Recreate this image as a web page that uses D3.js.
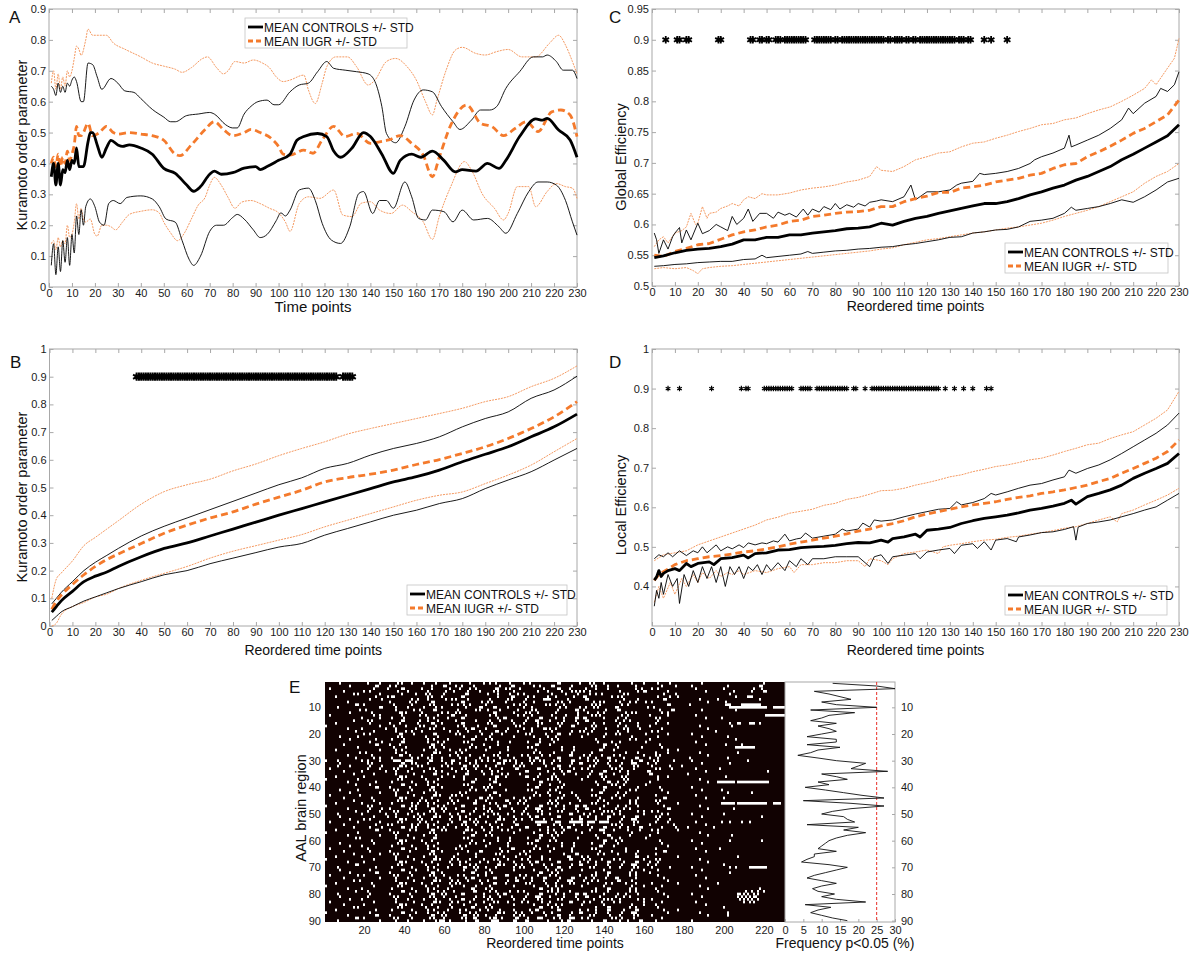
<!DOCTYPE html>
<html>
<head>
<meta charset="utf-8">
<script src="https://cdn.jsdelivr.net/npm/d3@7"></script>
<style>
  body { margin: 0; background: #fff; }
</style>
</head>
<body>
<svg id="chart" width="1198" height="958"></svg>
<script>
// ---------- panel A: Kuramoto order parameter over time ----------
const aCtrlMean = [[1,.357],[2,.40],[3,.33],[4,.40],[5,.33],[6,.38],[7,.37],[8,.41],[9,.38],[10,.41],[11,.40],[12,.45],[13,.39],[15,.39],[17,.47],[18,.50],[19,.50],[21,.46],[23,.42],[25,.45],[27,.475],[30,.46],[32,.455],[35,.46],[40,.45],[45,.43],[50,.384],[55,.368],[60,.33],[63,.31],[66,.325],[70,.365],[72,.375],[75,.365],[80,.37],[85,.385],[90,.39],[92,.38],[95,.39],[100,.41],[105,.43],[108,.475],[111,.487],[117,.497],[121,.487],[124,.44],[127,.42],[132,.45],[137,.50],[140,.487],[145,.43],[150,.368],[153,.41],[158,.43],[162,.42],[167,.44],[172,.41],[177,.373],[180,.38],[186,.375],[191,.40],[196,.384],[199,.41],[205,.487],[212,.544],[215,.54],[217,.546],[222,.508],[227,.476],[230,.42]];
const aIugrMean = [[1,.40],[2,.42],[3,.39],[4,.43],[5,.39],[6,.42],[7,.40],[8,.44],[9,.41],[10,.43],[11,.46],[12,.52],[13,.49],[14,.49],[15,.50],[17,.53],[19,.49],[22,.50],[25,.52],[28,.50],[30,.495],[35,.50],[40,.495],[45,.49],[50,.475],[55,.43],[57,.425],[62,.46],[68,.51],[72,.535],[76,.51],[80,.49],[85,.50],[88,.51],[92,.50],[97,.48],[100,.455],[102,.43],[105,.427],[111,.443],[115,.433],[119,.476],[124,.52],[129,.487],[134,.497],[140,.465],[144,.47],[148,.476],[153,.49],[158,.465],[163,.427],[167,.357],[170,.42],[175,.524],[182,.589],[188,.53],[193,.519],[198,.49],[203,.513],[208,.535],[213,.503],[219,.567],[223,.573],[227,.557],[230,.487]];
const aCtrlUp = [[1,.65],[2,.64],[3,.62],[4,.66],[5,.63],[6,.65],[7,.63],[8,.66],[9,.65],[10,.67],[11,.68],[12,.665],[14,.60],[15,.60],[17,.725],[19,.72],[21,.68],[23,.64],[27,.675],[30,.66],[33,.635],[37,.63],[40,.61],[45,.575],[50,.55],[53,.535],[55,.535],[60,.555],[65,.56],[70,.565],[72,.56],[77,.525],[80,.515],[82,.515],[85,.56],[88,.585],[91,.60],[95,.605],[98,.59],[100,.59],[105,.632],[109,.654],[113,.66],[117,.697],[121,.73],[124,.708],[129,.702],[134,.697],[139,.69],[142,.665],[145,.584],[147,.497],[151,.467],[155,.519],[159,.605],[163,.638],[167,.632],[171,.584],[176,.535],[179,.51],[184,.54],[188,.573],[192,.573],[195,.584],[199,.643],[205,.697],[211,.745],[215,.745],[217,.751],[221,.73],[224,.702],[228,.702],[230,.675]];
const aIugrUp = [[1,.66],[2,.70],[3,.64],[4,.69],[5,.64],[6,.68],[7,.65],[8,.70],[9,.68],[10,.70],[11,.74],[12,.78],[13,.77],[14,.75],[16,.80],[17,.835],[19,.815],[22,.815],[25,.815],[28,.79],[33,.77],[40,.745],[45,.725],[50,.715],[55,.705],[58,.695],[62,.71],[67,.74],[69,.745],[73,.71],[76,.69],[78,.70],[81,.73],[85,.725],[89,.735],[93,.725],[96,.71],[99,.68],[102,.665],[105,.67],[111,.686],[113,.638],[116,.594],[119,.66],[121,.713],[125,.745],[130,.745],[134,.713],[139,.654],[142,.67],[147,.73],[151,.74],[156,.713],[160,.67],[164,.60],[167,.557],[169,.605],[173,.702],[177,.767],[180,.776],[186,.756],[190,.751],[195,.762],[200,.769],[206,.745],[212,.745],[218,.789],[222,.815],[225,.783],[228,.73],[230,.69]];
const aCtrlLo = [[1,.07],[2,.14],[3,.04],[4,.13],[5,.05],[6,.15],[7,.08],[8,.16],[9,.07],[10,.17],[11,.11],[12,.23],[13,.17],[14,.25],[15,.20],[16,.26],[18,.285],[20,.26],[22,.21],[24,.20],[26,.27],[28,.28],[31,.27],[34,.29],[40,.295],[45,.285],[48,.26],[51,.22],[55,.21],[58,.15],[61,.09],[63,.07],[66,.10],[70,.18],[73,.20],[76,.20],[80,.225],[82,.235],[85,.22],[89,.185],[92,.16],[95,.17],[99,.215],[101,.24],[103,.23],[105,.249],[109,.314],[113,.32],[116,.28],[119,.206],[123,.152],[127,.141],[131,.195],[135,.303],[137,.309],[141,.238],[144,.28],[147,.28],[150,.255],[155,.34],[158,.292],[161,.222],[164,.217],[167,.249],[172,.244],[176,.211],[180,.249],[185,.217],[191,.222],[196,.195],[199,.174],[204,.238],[209,.309],[213,.34],[217,.34],[221,.33],[225,.28],[228,.211],[230,.168]];
const aIugrLo = [[1,.14],[2,.15],[3,.12],[4,.16],[5,.13],[6,.15],[7,.14],[8,.20],[9,.16],[10,.17],[11,.21],[12,.27],[13,.22],[14,.255],[15,.22],[16,.21],[18,.22],[20,.17],[21,.165],[23,.20],[25,.20],[27,.195],[29,.185],[32,.21],[35,.235],[40,.245],[45,.25],[48,.24],[50,.21],[53,.175],[56,.15],[59,.175],[62,.22],[65,.265],[68,.29],[70,.33],[72,.355],[75,.33],[78,.29],[81,.255],[84,.275],[88,.28],[92,.27],[96,.255],[100,.24],[103,.21],[105,.18],[109,.27],[113,.292],[118,.287],[124,.314],[128,.233],[132,.228],[136,.271],[140,.276],[144,.249],[149,.238],[154,.265],[158,.244],[163,.211],[167,.154],[170,.228],[175,.325],[181,.406],[184,.379],[189,.298],[194,.255],[198,.217],[200,.238],[204,.325],[209,.325],[212,.26],[217,.309],[221,.335],[225,.325],[228,.32],[230,.287]];

// ---------- panel B: Kuramoto, reordered ----------
const bTime     = [1, 3, 5, 10, 15, 20, 25, 30, 40, 50, 60, 70, 80, 90, 100, 110, 120, 130, 140, 150, 160, 170, 180, 190, 200, 210, 220, 230];
const bCtrlMean = [.05,.07,.09,.125,.16,.18,.195,.215,.25,.28,.30,.325,.35,.375,.40,.424,.448,.472,.496,.52,.539,.563,.593,.62,.647,.683,.719,.765];
const bIugrMean = [.06,.09,.11,.15,.185,.215,.24,.26,.298,.335,.364,.39,.412,.44,.465,.49,.52,.536,.548,.563,.583,.601,.623,.647,.677,.713,.755,.81];
const bCtrlUp   = [.08,.10,.12,.16,.20,.23,.255,.28,.325,.36,.39,.42,.45,.48,.51,.535,.569,.587,.617,.641,.659,.683,.719,.749,.773,.822,.852,.902];
const bIugrUp   = [.10,.17,.19,.235,.29,.32,.35,.38,.44,.485,.51,.53,.56,.585,.615,.641,.665,.693,.713,.731,.749,.767,.786,.81,.828,.864,.894,.939];
const bCtrlLo   = [.02,.035,.05,.07,.09,.105,.12,.135,.16,.185,.20,.225,.245,.265,.285,.298,.328,.352,.376,.40,.418,.442,.46,.496,.527,.557,.599,.641];
const bIugrLo   = [0,.01,.04,.07,.085,.105,.115,.135,.165,.19,.215,.245,.27,.29,.31,.33,.358,.382,.406,.43,.454,.472,.484,.514,.545,.581,.629,.677];
const bStars = d3.range(38, 126).concat(d3.range(128, 133));

// ---------- panel C: global efficiency ----------
const cCtrlMean = [[1,.546],[5,.549],[10,.554],[15,.558],[20,.56],[25,.561],[30,.564],[35,.568],[40,.575],[45,.575],[50,.579],[55,.579],[60,.583],[65,.583],[70,.586],[75,.588],[80,.59],[85,.593],[90,.594],[95,.596],[100,.602],[105,.599],[110,.605],[115,.61],[120,.613],[125,.618],[130,.622],[135,.626],[140,.63],[145,.634],[150,.634],[155,.637],[160,.642],[165,.648],[170,.653],[175,.659],[180,.664],[185,.672],[190,.678],[195,.686],[200,.694],[205,.705],[210,.714],[215,.724],[220,.734],[225,.744],[230,.762]];
const cIugrMean = [[1,.55],[5,.548],[10,.556],[15,.561],[20,.567],[25,.569],[30,.576],[35,.583],[40,.588],[45,.591],[50,.596],[55,.599],[60,.605],[65,.607],[70,.613],[75,.615],[80,.618],[85,.62],[90,.621],[95,.623],[100,.629],[105,.629],[110,.637],[115,.642],[120,.646],[125,.652],[130,.652],[135,.659],[140,.661],[145,.664],[150,.669],[155,.672],[160,.675],[165,.68],[170,.683],[175,.691],[180,.697],[185,.699],[190,.71],[195,.718],[200,.727],[205,.737],[210,.748],[215,.756],[220,.767],[225,.778],[230,.802]];
const cCtrlUp = [[1,.586],[2,.575],[3,.553],[5,.575],[7,.56],[9,.58],[10,.586],[12,.595],[13,.57],[15,.591],[17,.575],[20,.602],[22,.585],[25,.59],[28,.60],[30,.596],[33,.59],[35,.613],[37,.60],[40,.61],[42,.625],[44,.605],[47,.618],[50,.618],[53,.61],[55,.62],[58,.615],[60,.618],[63,.612],[66,.625],[68,.615],[70,.625],[73,.62],[75,.629],[78,.624],[80,.634],[82,.625],[85,.632],[88,.628],[90,.634],[93,.63],[95,.636],[98,.638],[100,.64],[105,.637],[110,.645],[113,.664],[115,.64],[120,.653],[125,.653],[130,.656],[133,.664],[135,.667],[140,.67],[143,.683],[145,.681],[150,.683],[155,.686],[160,.691],[165,.699],[167,.705],[170,.71],[175,.716],[180,.724],[182,.745],[183,.726],[185,.729],[190,.737],[195,.745],[200,.756],[205,.77],[208,.789],[210,.78],[215,.797],[220,.808],[222,.821],[225,.816],[228,.827],[230,.848]];
const cIugrUp = [[1,.564],[3,.575],[5,.58],[7,.57],[10,.586],[13,.59],[15,.596],[17,.618],[19,.60],[20,.602],[22,.629],[24,.61],[25,.618],[28,.62],[30,.626],[33,.63],[35,.634],[38,.63],[40,.64],[42,.645],[45,.642],[48,.65],[50,.648],[55,.648],[60,.651],[65,.656],[70,.659],[75,.661],[80,.664],[85,.669],[90,.672],[95,.678],[98,.694],[100,.688],[105,.686],[110,.694],[115,.705],[120,.71],[125,.716],[130,.718],[135,.726],[140,.732],[145,.734],[150,.74],[155,.745],[160,.751],[165,.756],[170,.762],[175,.764],[180,.77],[185,.773],[190,.78],[195,.786],[200,.791],[205,.80],[210,.81],[215,.821],[218,.835],[220,.827],[225,.854],[228,.87],[230,.902]];
const cCtrlLo = [[1,.532],[5,.533],[10,.535],[15,.536],[20,.538],[25,.539],[30,.54],[35,.54],[40,.543],[45,.544],[48,.55],[50,.546],[55,.548],[60,.55],[65,.552],[68,.556],[70,.553],[75,.555],[80,.557],[85,.558],[90,.56],[95,.561],[100,.563],[105,.564],[110,.567],[115,.569],[120,.572],[125,.575],[130,.579],[135,.58],[140,.586],[145,.588],[150,.591],[155,.592],[160,.596],[165,.605],[170,.607],[175,.61],[180,.618],[183,.628],[185,.623],[190,.626],[195,.629],[200,.634],[205,.64],[210,.636],[215,.645],[220,.656],[225,.669],[230,.675]];
const cIugrLo = [[1,.528],[5,.53],[10,.528],[15,.53],[18,.525],[20,.52],[22,.528],[25,.53],[30,.532],[35,.533],[40,.535],[45,.537],[50,.539],[55,.541],[60,.543],[65,.545],[70,.547],[75,.549],[80,.551],[85,.553],[90,.555],[95,.557],[100,.56],[105,.562],[110,.567],[115,.571],[120,.575],[125,.577],[130,.58],[135,.583],[140,.586],[145,.588],[150,.591],[155,.594],[160,.596],[165,.599],[170,.602],[175,.607],[180,.613],[185,.618],[190,.623],[195,.629],[200,.637],[205,.645],[210,.653],[215,.667],[220,.678],[225,.686],[230,.699]];
const cStars = [6,11,12,15,16,29,30,43,44,47,48,50,51,54,55,56,58,59,60,61,62,63,64,65,66,67,71,72,73,74,75,76,77,78,80,81,83,84,85,86,87,88,89,90,91,92,93,94,95,96,97,98,99,100,101,103,104,106,107,108,109,111,112,114,115,117,118,119,120,121,122,123,124,125,126,127,128,129,130,131,132,134,135,136,138,139,145,148,155];

// ---------- panel D: local efficiency ----------
const dCtrlMean = [[1,.416],[2,.424],[3,.44],[4,.425],[5,.433],[7,.44],[10,.445],[12,.44],[15,.458],[17,.45],[20,.458],[25,.462],[27,.455],[30,.47],[35,.473],[40,.479],[42,.472],[45,.483],[50,.485],[55,.492],[60,.493],[65,.498],[70,.50],[75,.501],[80,.504],[85,.508],[90,.511],[95,.51],[100,.517],[103,.512],[105,.521],[110,.525],[115,.532],[117,.525],[120,.542],[125,.545],[130,.549],[135,.559],[140,.566],[145,.572],[150,.576],[155,.58],[160,.586],[165,.593],[170,.597],[175,.603],[180,.61],[183,.618],[185,.608],[190,.627],[195,.635],[200,.644],[205,.656],[210,.673],[215,.686],[220,.698],[225,.711],[230,.736]];
const dIugrMean = [[1,.415],[3,.43],[5,.437],[10,.455],[15,.465],[20,.47],[25,.475],[30,.478],[35,.482],[40,.487],[45,.49],[50,.495],[55,.50],[60,.507],[65,.512],[70,.517],[75,.522],[80,.527],[85,.533],[90,.54],[95,.545],[100,.553],[105,.559],[110,.566],[115,.576],[120,.583],[125,.589],[130,.595],[135,.601],[140,.606],[145,.61],[150,.614],[155,.62],[160,.625],[165,.629],[170,.635],[175,.639],[180,.644],[185,.65],[190,.656],[195,.665],[200,.673],[205,.686],[210,.698],[215,.711],[220,.724],[225,.741],[230,.77]];
const dCtrlUp = [[1,.47],[3,.48],[5,.475],[7,.485],[9,.475],[12,.49],[15,.478],[18,.49],[20,.485],[22,.50],[24,.485],[26,.495],[28,.505],[30,.49],[33,.50],[35,.495],[38,.505],[40,.498],[42,.51],[45,.505],[48,.51],[50,.508],[53,.515],[55,.512],[58,.532],[60,.515],[63,.52],[65,.522],[67,.535],[70,.522],[75,.527],[80,.532],[83,.545],[85,.54],[90,.545],[92,.56],[95,.55],[97,.568],[100,.565],[105,.568],[110,.576],[115,.583],[120,.589],[125,.595],[130,.597],[133,.614],[135,.606],[140,.612],[145,.622],[148,.635],[150,.631],[155,.639],[160,.648],[165,.656],[170,.66],[175,.669],[180,.677],[182,.694],[185,.686],[190,.698],[195,.707],[200,.72],[205,.736],[210,.753],[215,.77],[220,.787],[225,.808],[230,.838]];
const dIugrUp = [[1,.465],[5,.48],[10,.485],[15,.49],[20,.505],[25,.515],[30,.525],[35,.535],[40,.545],[45,.555],[50,.568],[55,.575],[60,.585],[65,.59],[70,.595],[75,.605],[80,.61],[85,.62],[90,.625],[95,.633],[100,.642],[105,.643],[110,.648],[115,.656],[120,.662],[125,.669],[130,.677],[135,.682],[140,.69],[145,.696],[150,.703],[155,.707],[160,.713],[165,.72],[170,.724],[175,.732],[180,.741],[185,.749],[190,.758],[195,.762],[200,.774],[205,.783],[210,.791],[215,.808],[220,.825],[225,.846],[230,.893]];
const dCtrlLo = [[1,.35],[2,.39],[3,.37],[4,.41],[5,.38],[7,.43],[9,.40],[11,.42],[12,.357],[14,.43],[16,.40],[18,.44],[20,.41],[22,.45],[24,.42],[26,.45],[28,.41],[30,.45],[32,.40],[34,.45],[36,.43],[38,.45],[40,.42],[42,.45],[44,.44],[46,.455],[48,.43],[50,.455],[52,.44],[55,.46],[58,.44],[60,.465],[63,.45],[65,.47],[68,.455],[70,.47],[75,.47],[80,.475],[85,.475],[90,.475],[95,.45],[97,.475],[100,.48],[103,.458],[105,.475],[110,.479],[115,.483],[117,.47],[120,.487],[125,.492],[130,.496],[132,.483],[135,.504],[140,.508],[142,.496],[145,.513],[148,.492],[150,.517],[155,.521],[159,.513],[160,.525],[165,.53],[170,.536],[175,.538],[180,.544],[184,.551],[185,.517],[186,.55],[190,.559],[195,.563],[200,.568],[205,.576],[210,.584],[215,.593],[220,.601],[225,.618],[230,.635]];
const dIugrLo = [[1,.36],[3,.40],[5,.37],[8,.41],[10,.38],[13,.42],[15,.40],[18,.43],[20,.41],[22,.435],[25,.42],[28,.44],[30,.425],[33,.435],[35,.43],[38,.44],[40,.43],[45,.44],[50,.435],[55,.445],[60,.45],[62,.435],[65,.455],[70,.455],[75,.46],[80,.46],[85,.465],[90,.465],[93,.45],[95,.47],[100,.465],[103,.455],[105,.47],[110,.483],[115,.487],[120,.492],[125,.483],[127,.50],[130,.504],[135,.508],[140,.513],[145,.517],[150,.519],[155,.524],[160,.527],[165,.532],[170,.536],[175,.541],[180,.547],[185,.551],[190,.559],[195,.568],[200,.576],[203,.563],[205,.584],[210,.593],[215,.606],[220,.618],[225,.631],[230,.648]];
const dStars = [7,12,26,39,41,42,49,50,51,52,53,54,55,56,57,58,59,60,61,65,66,67,68,69,72,73,74,75,76,77,78,79,80,81,82,83,84,85,88,89,93,96,97,98,99,100,101,102,103,104,105,106,107,108,109,110,111,112,113,114,115,116,117,118,119,120,121,122,123,124,125,128,132,136,140,146,148];

// ---------- panel E: significant regions (hex rows, 4 time points per digit) ----------
const heatRows = [
  "0100 0410 0A10 4102 0081 2408 1200 0C01 0A10 0041 0208 0008 0000 0010 00",
  "0008 0060 9000 0418 4820 0106 0090 6010 0504 2010 0081 0100 0040 0060 00",
  "2000 0081 0300 8402 1090 0628 4004 0C20 2104 0012 1200 0040 0100 0220 00",
  "0040 1200 0840 1008 8104 0A02 0021 0215 4800 1009 8010 0002 0008 0418 00",
  "0002 8010 0204 2810 0300 4208 9000 4082 0920 0500 0041 0000 0020 0000 00",
  "0400 0041 6000 1420 0C00 0206 0481 1008 6001 2800 0208 8000 0004 1C00 00",
  "0000 0208 0012 1009 4100 2014 0807 8040 3000 0408 0060 0010 0800 0040 00",
  "0010 0000 8024 0600 0C02 5020 1080 0A20 0250 1090 9000 0001 0080 0000 00",
  "0001 9000 2010 0A01 2480 8002 4802 9100 0540 0900 0018 0200 00E0 FFC0 00",
  "0200 0018 1040 4120 0206 0C10 1100 0481 2280 6000 4800 0000 003F FFF8 FC",
  "0000 4800 1009 0300 2014 4100 8140 0806 4008 3000 0106 0008 0004 0000 00",
  "0008 0100 0680 8024 5000 0C02 0A20 1002 1090 0250 0090 0000 0000 0000 00",
  "2000 0090 0201 2081 8200 2400 9100 4082 0540 0900 2010 0040 0000 000F FC",
  "0000 2010 4100 1204 0C00 0260 0418 1106 6010 2200 0500 0002 0200 0000 00",
  "0002 0500 0301 1080 4010 2104 0860 8104 3000 4480 0200 0000 0000 0000 00",
  "0400 0200 8402 0620 0C00 5002 1028 0A02 0210 1008 0410 0000 0023 0E40 00",
  "8000 0010 2081 4100 2408 0C01 4020 0418 0500 2208 2000 0010 0010 0000 00",
  "0010 2002 1004 0A10 0260 8010 1106 9000 2208 0504 0080 0001 0000 0000 00",
  "0001 0080 1090 8002 2104 0620 8100 4011 4400 2100 1200 0000 1000 0000 00",
  "0000 1200 0608 0300 5002 1080 0A02 0C20 1008 5000 8010 0100 0000 0000 00",
  "0100 8000 0A00 2080 0410 2002 0081 1000 8010 0040 0200 0008 0040 0000 00",
  "0008 0040 4100 1204 0060 9000 0010 4800 0100 0090 2000 0000 0004 0000 00",
  "0000 0208 0300 1090 0500 0208 0410 2000 0081 1000 8000 0040 0000 0000 00",
  "0040 0060 8400 0620 0041 0200 0060 8000 0018 4000 0100 0002 0080 8000 00",
  "0000 8000 2080 0A10 0090 2010 0500 0208 0010 2002 0080 0000 0007 FE00 00",
  "0400 0010 1200 4102 1200 8010 0040 0208 0060 8000 0010 8000 0000 0000 00",
  "0000 4800 1080 0340 4800 0100 0090 2010 0400 0208 0410 0010 0002 0000 00",
  "0010 0100 0620 8402 2081 0A10 2408 8030 4820 9001 0500 0001 0000 0000 00",
  "0001 0090 4012 1420 1204 4102 0260 0C01 1106 0418 2200 0200 0040 0000 00",
  "8200 2410 3CF0 0C21 8212 4869 0294 2418 1282 4046 0A02 0100 0000 1000 00",
  "0100 0500 0314 1009 1090 0341 2104 4011 8104 0870 4400 0008 0020 0000 00",
  "0208 0208 0682 8024 0628 8402 5002 0C20 0A02 1028 1008 2000 0000 0000 00",
  "2000 0410 2810 0A01 0A10 2081 8030 2408 9001 4820 0504 0040 0400 0000 00",
  "0040 2002 1040 4120 4102 1200 0C01 0260 0418 1100 6000 0002 0000 0004 00",
  "0002 0080 1008 0304 0301 1090 4010 2104 0860 8100 3000 0400 0000 0000 00",
  "0400 1000 0680 8020 8400 0620 0C20 5000 1028 0A00 0210 0000 0080 0000 00",
  "8000 8000 0A00 2080 0410 2400 0081 4800 8010 0500 0200 0010 0000 0000 00",
  "0010 0040 4010 1200 0060 0C00 0018 0400 0106 2200 2000 0001 0FFB FFFC 00",
  "0001 0200 0304 1080 0500 2100 0410 8100 0081 4400 8000 0000 0000 0000 00",
  "0000 0060 8020 0620 0041 5000 0060 0A00 0018 1008 0100 0100 0000 0000 00",
  "0100 8000 2810 0A00 0090 8020 0500 9000 0410 0090 0080 0008 0200 0000 00",
  "0008 0010 1040 4100 1200 0C00 0041 0410 0060 2200 0010 0000 0040 0400 00",
  "2000 4000 1008 0341 4800 2100 0090 8104 0500 4400 0400 0040 0000 0000 00",
  "0040 0100 0680 8402 0106 5002 1200 0A02 0041 1008 0060 0002 0100 0000 00",
  "0002 0080 0A01 2081 2010 8030 4800 9001 0090 0090 0500 0000 0000 0000 00",
  "0400 2010 4012 1204 8030 2408 9001 4820 0504 0090 0200 8000 03FB FFF8 F0",
  "8000 0500 0314 1090 0C01 0260 0418 1106 6010 2208 0040 0010 0000 0000 00",
  "0010 0208 8024 0628 4011 2104 0870 8104 3040 4480 0018 0001 0008 0000 00",
  "0001 0410 2810 0A10 0C20 5002 1028 0A02 0215 1009 1200 0000 0000 0000 00",
  "0200 2002 1042 4102 2081 0A10 2408 8030 4820 9001 0090 0100 0100 0000 00",
  "0100 0081 1009 0341 1204 4102 0260 0C01 1106 0418 0500 0008 0000 0020 00",
  "0008 1200 0682 8402 1090 0341 2104 4011 8104 0870 0208 0000 0000 0000 00",
  "2000 8010 0A01 2081 0628 8402 007E 1C3F 9E7C 1028 0410 0040 0220 8800 00",
  "0040 0041 4012 1204 0A10 2081 8030 2408 9001 4820 2002 0002 0000 0000 00",
  "0002 0208 0314 1090 4102 1204 0C01 0260 0418 1106 0081 0400 2000 0000 00",
  "0400 0060 8024 0628 0341 1090 4011 2104 0870 8104 1200 8000 0000 0000 00",
  "8000 8000 2800 0A00 0410 2002 0081 1200 8010 0040 0200 0010 0000 0000 00",
  "0010 0010 1040 4100 0060 9000 0018 4800 0106 0080 2000 0001 0010 0000 00",
  "0001 4000 1008 0300 0500 0208 0410 2002 0081 1000 8000 0000 0000 0000 00",
  "0000 0100 0680 8400 0041 0208 0060 9000 0018 4800 0100 0100 0020 0020 00",
  "0100 0080 0A00 2080 0090 2010 0500 0208 0410 2000 0080 0008 0000 0000 00",
  "0008 2000 4010 1200 1200 8010 0041 0208 0060 8000 0010 0000 0000 0000 00",
  "2000 0400 0304 1080 4800 0106 0090 2010 0500 0200 0400 0040 0400 0000 00",
  "0040 0200 8020 0620 0106 0090 1200 8010 0041 0208 0060 0002 0000 0000 00",
  "0002 0010 2800 0A00 2010 0500 4800 0106 0090 2010 0400 0000 0000 0000 00",
  "0400 2000 1040 4100 8010 0041 0208 0060 9000 0018 4000 8000 0002 0000 00",
  "8000 0080 1008 0341 2081 0A10 2408 8030 4820 9001 0500 0010 0000 0000 00",
  "0010 1000 0680 8402 1204 4102 0260 0C01 1106 0418 2200 0001 0000 0000 00",
  "0001 8000 0A00 2081 1090 0341 2104 4011 8104 0870 4400 0000 0100 0000 00",
  "0200 0040 4010 1204 0628 8402 5002 0C20 0A02 1028 1008 0100 0024 0FF8 00",
  "0100 0200 0304 1080 0410 2002 0081 1200 8010 0041 0200 0008 0000 0000 00",
  "0008 0060 8020 0620 0060 9000 0018 4800 0106 0090 2000 0000 0020 0000 00",
  "2000 9000 2810 0A10 2408 8030 4820 9001 0504 0090 0200 0040 0000 0000 00",
  "0040 0010 1040 4102 0260 0C01 1106 0418 2208 6010 0040 0002 0000 0000 00",
  "0002 4000 1008 0341 2104 4011 8104 0870 4480 3040 0010 0000 0000 0000 00",
  "0400 0100 0680 8402 5002 0C20 0A02 1028 1009 0210 1000 8000 0800 0000 00",
  "8000 0080 0A00 2081 0410 2002 0081 1200 8010 0041 0080 0010 0000 0000 00",
  "0010 2000 4010 1204 0060 9000 0018 4800 0106 0090 0400 0001 0000 0040 00",
  "0001 0400 0304 1090 8030 2408 9001 4820 0504 0090 0200 0000 0000 2490 00",
  "0200 0200 8020 0628 0C01 0260 0418 1106 6010 2208 0040 0100 0003 5280 00",
  "0100 0400 2810 0A10 4011 2104 0870 8104 3040 4480 0010 0008 0002 AB00 00",
  "0008 2000 1040 4102 0C20 5002 1028 0A02 0215 1009 1000 0000 0001 5480 00",
  "2000 0080 1008 0341 2081 0A10 2408 8030 4820 9001 0080 0040 0000 4A00 00",
  "0040 1000 0680 8402 0410 2002 0081 1200 8010 0041 0400 0002 0000 0000 00",
  "0002 8000 0A00 2081 0060 9000 0018 4800 0106 0090 0200 0000 0100 0000 00",
  "0400 0040 4010 1204 1204 4102 0260 0C01 1106 0418 0040 8000 0000 0000 00",
  "8000 0200 0304 1090 1090 0341 2104 4011 8104 0870 0010 0010 0040 0000 00",
  "0010 0060 8020 0628 0628 8402 5002 0C20 0A02 1028 1000 0001 0040 0000 00",
  "0001 9000 2810 0A10 0A30 2C81 8438 2438 9001 4820 0080 0000 0000 0000 00",
  "0200 0010 1040 4172 0218 1E03 0C01 0260 0418 1106 0400 0100 0000 0000 00"
];
const regionFreq = [13,25,30,8,12,15,18,10,14,25,7,19,12,10,7,14,9,12,14,10,6,14,14,6,15,9,7,3.5,9,14,22,20,18,28,10,14,17,9,12,5.5,11,16,21,27,5,18,27,18,13,10,16,17,19,6,20,16,22,17,14,12,11,10,9,14,8,8,6,4.5,12,17,14,11,8,6,10,14,10,7.5,9,13.5,10,14,22,5.5,12.5,9,7,10,13,17];

const xTicks = d3.range(0, 231, 10);
const heatXTicks = d3.range(20, 221, 20);
const heatYTicks = d3.range(10, 91, 10);
const freqTicks = d3.range(0, 31, 5);

const FONT = '"Liberation Sans", Arial, Helvetica, sans-serif';
const ORANGE = '#f47a2c';
const ORANGE_THIN = '#f59a62';
const AXIS_GREY = '#a8a8a8';

const svg = d3.select('#chart');

const styles = {
  ctrlStd:  { stroke: '#000', width: 0.9, dash: null },
  iugrStd:  { stroke: ORANGE_THIN, width: 1, dash: '2,1' },
  ctrlMean: { stroke: '#000', width: 2.8, dash: null },
  iugrMean: { stroke: ORANGE, width: 2.8, dash: '7,4' }
};

function styleAxis(sel) {
  sel.attr('font-family', FONT);
  sel.select('.domain').remove();
  sel.selectAll('.tick line').attr('stroke', AXIS_GREY);
  sel.selectAll('.tick text').attr('fill', '#1a1a1a').attr('font-size', 11);
}

const fmt = d => d === 0 ? '0' : String(+d.toFixed(2));

function drawPanel(p) {
  const x = d3.scaleLinear().domain([0, 230]).range([p.left, p.right]);
  const y = d3.scaleLinear().domain(p.yDomain).range([p.bottom, p.top]);
  const g = svg.append('g');

  g.append('rect')
    .attr('x', p.left).attr('y', p.top)
    .attr('width', p.right - p.left).attr('height', p.bottom - p.top)
    .attr('fill', '#fff').attr('stroke', AXIS_GREY).attr('stroke-width', 1);

  g.append('g').attr('transform', `translate(0,${p.bottom})`)
    .call(d3.axisBottom(x).tickValues(xTicks).tickSize(-4).tickPadding(2).tickFormat(d3.format('d')))
    .call(styleAxis);
  g.append('g').attr('transform', `translate(0,${p.top})`)
    .call(d3.axisTop(x).tickValues(xTicks).tickSize(-4).tickFormat(''))
    .call(styleAxis);
  g.append('g').attr('transform', `translate(${p.left},0)`)
    .call(d3.axisLeft(y).tickValues(p.yTicks).tickSize(-4).tickPadding(3).tickFormat(fmt))
    .call(styleAxis);
  g.append('g').attr('transform', `translate(${p.right},0)`)
    .call(d3.axisRight(y).tickValues(p.yTicks).tickSize(-4).tickFormat(''))
    .call(styleAxis);

  const line = d3.line()
    .x(d => x(d[0]))
    .y(d => y(d[1]))
    .curve(p.curve);

  p.series.forEach(s => {
    const st = styles[s.kind];
    g.append('path')
      .datum(s.data)
      .attr('d', line)
      .attr('fill', 'none')
      .attr('stroke', st.stroke)
      .attr('stroke-width', st.width)
      .attr('stroke-dasharray', st.dash)
      .attr('stroke-linejoin', 'round');
  });

  if (p.stars) {
    g.selectAll('.star')
      .data(p.stars)
      .enter().append('path')
      .attr('class', 'star')
      .attr('transform', d => `translate(${x(d)},${y(0.9)})`)
      .attr('d', d3.symbol(d3.symbolAsterisk, p.starSize))
      .attr('fill', 'none')
      .attr('stroke', '#000')
      .attr('stroke-width', p.starStroke);
  }

  // legend
  const L = p.legend;
  g.append('rect')
    .attr('x', L.x).attr('y', L.y).attr('width', L.w).attr('height', L.h)
    .attr('fill', '#fff').attr('stroke', '#c4c4c4').attr('stroke-width', 0.8);
  const rows = [
    { label: 'MEAN CONTROLS +/- STD', st: styles.ctrlMean },
    { label: 'MEAN IUGR +/- STD', st: styles.iugrMean }
  ];
  rows.forEach((r, i) => {
    const cy = L.y + 9 + i * 14;
    g.append('line')
      .attr('x1', L.x + 3).attr('x2', L.x + 18)
      .attr('y1', cy).attr('y2', cy)
      .attr('stroke', r.st.stroke).attr('stroke-width', r.st.width)
      .attr('stroke-dasharray', r.st.dash ? '5,3' : null);
    g.append('text')
      .attr('x', L.x + 19).attr('y', cy + 4.5)
      .attr('font-family', FONT).attr('font-size', 12).attr('fill', '#111')
      .text(r.label);
  });

  g.append('text')
    .attr('x', (p.left + p.right) / 2).attr('y', p.xTitleY)
    .attr('text-anchor', 'middle')
    .attr('font-family', FONT).attr('font-size', p.xTitleSize || 14).attr('fill', '#111')
    .text(p.xTitle);

  g.append('text')
    .attr('transform', `translate(${p.yTitleX},${p.yTitleY}) rotate(-90)`)
    .attr('text-anchor', 'middle')
    .attr('font-family', FONT).attr('font-size', 14.5).attr('fill', '#111')
    .text(p.yTitle);

  g.append('text')
    .attr('x', p.letterX).attr('y', p.letterY)
    .attr('font-family', FONT).attr('font-size', 17).attr('fill', '#111')
    .text(p.letter);
}

const zipB = vals => bTime.map((t, i) => [t, vals[i]]);

drawPanel({
  letter: 'A', letterX: 9, letterY: 23,
  left: 49, right: 577, top: 9, bottom: 287,
  yDomain: [0, 0.9], yTicks: d3.range(0, 0.91, 0.1),
  curve: d3.curveMonotoneX,
  series: [
    { data: aIugrUp, kind: 'iugrStd' }, { data: aIugrLo, kind: 'iugrStd' },
    { data: aCtrlUp, kind: 'ctrlStd' }, { data: aCtrlLo, kind: 'ctrlStd' },
    { data: aIugrMean, kind: 'iugrMean' }, { data: aCtrlMean, kind: 'ctrlMean' }
  ],
  legend: { x: 245, y: 18, w: 162, h: 30 },
  xTitle: 'Time points', xTitleY: 312, xTitleSize: 15,
  yTitle: 'Kuramoto order parameter', yTitleX: 27, yTitleY: 145
});

drawPanel({
  letter: 'B', letterX: 10, letterY: 368,
  left: 49.5, right: 577, top: 349, bottom: 626,
  yDomain: [0, 1], yTicks: d3.range(0, 1.01, 0.1),
  curve: d3.curveMonotoneX,
  series: [
    { data: zipB(bIugrUp), kind: 'iugrStd' }, { data: zipB(bIugrLo), kind: 'iugrStd' },
    { data: zipB(bCtrlUp), kind: 'ctrlStd' }, { data: zipB(bCtrlLo), kind: 'ctrlStd' },
    { data: zipB(bIugrMean), kind: 'iugrMean' }, { data: zipB(bCtrlMean), kind: 'ctrlMean' }
  ],
  stars: bStars, starSize: 48, starStroke: 2,
  legend: { x: 407, y: 585, w: 160, h: 30 },
  xTitle: 'Reordered time points', xTitleY: 655,
  yTitle: 'Kuramoto order parameter', yTitleX: 27, yTitleY: 497
});

drawPanel({
  letter: 'C', letterX: 609, letterY: 23,
  left: 652, right: 1179, top: 9, bottom: 286,
  yDomain: [0.5, 0.95], yTicks: d3.range(0.5, 0.951, 0.05),
  curve: d3.curveLinear,
  series: [
    { data: cIugrUp, kind: 'iugrStd' }, { data: cIugrLo, kind: 'iugrStd' },
    { data: cCtrlUp, kind: 'ctrlStd' }, { data: cCtrlLo, kind: 'ctrlStd' },
    { data: cIugrMean, kind: 'iugrMean' }, { data: cCtrlMean, kind: 'ctrlMean' }
  ],
  stars: cStars, starSize: 40, starStroke: 1.8,
  legend: { x: 1005, y: 243, w: 163, h: 30 },
  xTitle: 'Reordered time points', xTitleY: 311,
  yTitle: 'Global Efficiency', yTitleX: 626, yTitleY: 157
});

drawPanel({
  letter: 'D', letterX: 609, letterY: 368,
  left: 652, right: 1179, top: 349, bottom: 626,
  yDomain: [0.3, 1], yTicks: d3.range(0.4, 1.01, 0.1),
  curve: d3.curveLinear,
  series: [
    { data: dIugrUp, kind: 'iugrStd' }, { data: dIugrLo, kind: 'iugrStd' },
    { data: dCtrlUp, kind: 'ctrlStd' }, { data: dCtrlLo, kind: 'ctrlStd' },
    { data: dIugrMean, kind: 'iugrMean' }, { data: dCtrlMean, kind: 'ctrlMean' }
  ],
  stars: dStars, starSize: 20, starStroke: 1.2,
  legend: { x: 1005, y: 586, w: 162, h: 29 },
  xTitle: 'Reordered time points', xTitleY: 655,
  yTitle: 'Local Efficiency', yTitleX: 626, yTitleY: 505
});

// ---------- panel E ----------
const hm = { left: 325, right: 785, top: 682, bottom: 922, sideRight: 895 };
const cols = d3.range(1, 231);
const rowsIdx = d3.range(1, 91);
const xh = d3.scaleBand().domain(cols).range([hm.left, hm.right]);
const yh = d3.scaleBand().domain(rowsIdx).range([hm.top, hm.bottom]);
const xhl = d3.scaleLinear().domain([0.5, 230.5]).range([hm.left, hm.right]);
const yhl = d3.scaleLinear().domain([0.5, 90.5]).range([hm.top, hm.bottom]);
const xs = d3.scaleLinear().domain([0, 30]).range([hm.right, hm.sideRight]);

const cells = [];
heatRows.forEach((str, ri) => {
  const hex = str.replace(/\s+/g, '');
  for (let k = 0; k < hex.length; k++) {
    const v = parseInt(hex[k], 16);
    for (let b = 0; b < 4; b++) {
      const col = k * 4 + b + 1;
      if (col <= 230 && (v >> (3 - b)) & 1) cells.push({ row: ri + 1, col: col });
    }
  }
});

const ge = svg.append('g');
ge.append('rect')
  .attr('x', hm.left).attr('y', hm.top)
  .attr('width', hm.right - hm.left).attr('height', hm.bottom - hm.top)
  .attr('fill', '#110202');

ge.selectAll('.cell')
  .data(cells)
  .enter().append('rect')
  .attr('class', 'cell')
  .attr('x', d => xh(d.col))
  .attr('y', d => yh(d.row))
  .attr('width', xh.bandwidth())
  .attr('height', yh.bandwidth())
  .attr('fill', '#fff');

ge.append('g').attr('transform', `translate(0,${hm.bottom})`)
  .call(d3.axisBottom(xhl).tickValues(heatXTicks).tickSize(0).tickPadding(4))
  .call(styleAxis);
ge.append('g').attr('transform', `translate(${hm.left},0)`)
  .call(d3.axisLeft(yhl).tickValues(heatYTicks).tickSize(0).tickPadding(4))
  .call(styleAxis);

// frequency side plot
ge.append('rect')
  .attr('x', hm.right).attr('y', hm.top)
  .attr('width', hm.sideRight - hm.right).attr('height', hm.bottom - hm.top)
  .attr('fill', '#fff').attr('stroke', AXIS_GREY);

ge.append('g').attr('transform', `translate(0,${hm.bottom})`)
  .call(d3.axisBottom(xs).tickValues(freqTicks).tickSize(-3).tickPadding(4))
  .call(styleAxis);
ge.append('g').attr('transform', `translate(${hm.sideRight},0)`)
  .call(d3.axisRight(yhl).tickValues(heatYTicks).tickSize(-3).tickPadding(6))
  .call(styleAxis);

ge.append('line')
  .attr('x1', xs(25)).attr('x2', xs(25))
  .attr('y1', hm.top).attr('y2', hm.bottom)
  .attr('stroke', '#e8302a').attr('stroke-width', 1)
  .attr('stroke-dasharray', '3,2');

ge.append('path')
  .datum(regionFreq)
  .attr('d', d3.line().x(d => xs(d)).y((d, i) => yhl(i + 1)))
  .attr('fill', 'none')
  .attr('stroke', '#111')
  .attr('stroke-width', 0.9);

ge.append('text')
  .attr('x', (hm.left + hm.right) / 2).attr('y', 948)
  .attr('text-anchor', 'middle')
  .attr('font-family', FONT).attr('font-size', 14).attr('fill', '#111')
  .text('Reordered time points');
ge.append('text')
  .attr('x', 845).attr('y', 948)
  .attr('text-anchor', 'middle')
  .attr('font-family', FONT).attr('font-size', 14).attr('fill', '#111')
  .text('Frequency p<0.05 (%)');
ge.append('text')
  .attr('transform', `translate(306,808) rotate(-90)`)
  .attr('text-anchor', 'middle')
  .attr('font-family', FONT).attr('font-size', 14.5).attr('fill', '#111')
  .text('AAL brain region');
ge.append('text')
  .attr('x', 289).attr('y', 693)
  .attr('font-family', FONT).attr('font-size', 17).attr('fill', '#111')
  .text('E');
</script>
</body>
</html>
